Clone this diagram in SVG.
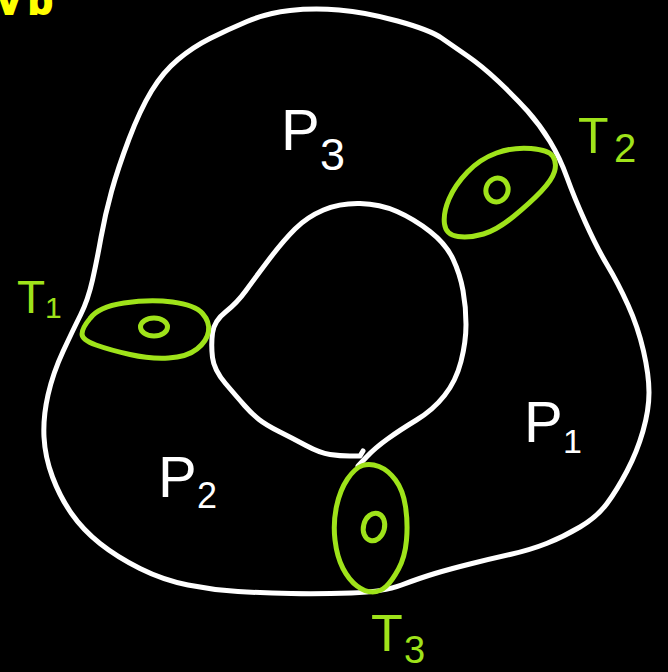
<svg xmlns="http://www.w3.org/2000/svg" width="668" height="672" viewBox="0 0 668 672">
<style>
.w{fill:none;stroke:#ffffff;stroke-width:5;stroke-linecap:round;stroke-linejoin:round}
.g{fill:none;stroke:#9fe31a;stroke-width:5;stroke-linecap:round;stroke-linejoin:round}
.pl{fill:#ffffff;font-family:"Liberation Sans",Arial,sans-serif}
.tl{fill:#9fe31a;font-family:"Liberation Sans",Arial,sans-serif}
</style>
<rect x="0" y="0" width="668" height="672" fill="#000000"/>
<g id="corner-text">
<text x="-2" y="14" font-family="Liberation Sans,Arial,sans-serif" font-size="40" font-weight="bold" fill="#ffff00" stroke="#ffff00" stroke-width="2" letter-spacing="8">vb</text>
</g>
<g id="surface">
<path id="outer" class="w" d="M351.5,593 Q383,592 401.5,585 Q420,578 435,573.5 Q450,569 470,564 Q490,559 510,554.5 Q530,550 546.5,543.5 Q563,537 580,527 Q597,517 607,503.5 Q617,490 627,471 Q637,452 643,431 Q649,410 649,392.5 Q649,375 643.5,351 Q638,327 628,305 Q618,283 607.5,265.5 Q597,248 585.5,222.5 Q574,197 567,177.5 Q560,158 550,141.5 Q540,125 527.5,111 Q515,97 498.5,81.5 Q482,66 467.5,56 Q453,46 441.5,38 Q430,30 397.5,21 Q365,12 339,10 Q313,8 290,10.5 Q267,13 247,21.5 Q227,30 210,38.5 Q193,47 178,59.5 Q163,72 151.5,91 Q140,110 129,139 Q118,168 111.5,191.5 Q105,215 101,237.5 Q97,260 92.5,280 Q88,300 80.5,315 Q73,330 63,351.5 Q53,373 48,395 Q43,417 44,437 Q45,457 52.5,477 Q60,497 71.5,513.5 Q83,530 100,543.5 Q117,557 140,568.5 Q163,580 188,585 Q213,590 238,591.5 Q263,593 291.5,593.5 Q320,594 351.5,593 Z"/>
<path id="inner" class="w" d="M358,466 L366.5,457 Q375,448 387.5,439 Q400,430 416.5,420 Q433,410 444.5,395.5 Q456,381 461,361.5 Q466,342 466,324.5 Q466,307 463,290.5 Q460,274 453,259 Q446,244 430,231.5 Q414,219 397,211.5 Q380,204 360,203.5 Q340,203 323.5,210 Q307,217 295,229 Q283,241 269,259.5 Q255,278 246,290.5 Q237,303 225.5,312 Q214,321 212.5,333 Q211,345 212.5,357.5 Q214,370 225.5,383.5 Q237,397 244.5,405.5 Q252,414 259,419.5 Q266,425 279,431.5 Q292,438 306,445.5 Q320,453 330,454.5 Q340,456 350,456 L360,456 L363,451"/>
</g>
<g id="T1">
<path class="g" d="M82,334 Q82,328 90,318.5 Q98,307 124,303 Q150,299 172.5,302 Q195,305 202.5,313.5 Q210,322 208.5,331.5 Q207,341 197,349 Q187,357 168.5,358 Q150,359 130,354.5 Q110,350 96,345 Q82,340 82,334 Z"/>
<ellipse class="g" cx="154" cy="327" rx="13.5" ry="9"/>
<text class="tl" x="17" y="313" font-size="46">T</text>
<text class="tl" x="45" y="318" font-size="30">1</text>
</g>
<g id="T2">
<path class="g" d="M554.5,171.5 Q557,163 553,156.5 Q549,150 531,148.5 Q513,147 496.5,153 Q480,159 467.5,172 Q455,185 449,199 Q443,213 444.5,224 Q446,235 458,236.5 Q470,238 483.5,234 Q497,230 513.5,216.5 Q530,203 541,191.5 Q552,180 554.5,171.5 Z"/>
<ellipse class="g" cx="497" cy="190" rx="11" ry="12" transform="rotate(20 497 190)"/>
<text class="tl" x="578" y="153" font-size="50">T</text>
<text class="tl" x="614" y="162" font-size="40">2</text>
</g>
<g id="T3">
<path class="g" d="M362.5,465.5 Q370,463 379,466.5 Q388,470 395.5,480 Q403,490 405.5,506.5 Q408,523 406.5,540 Q405,557 398.5,569 Q392,581 386,586.5 Q380,592 372.5,592 Q365,592 357,586 Q349,580 343,568.5 Q337,557 335,540 Q333,523 336.5,506.5 Q340,490 347.5,479 Q355,468 362.5,465.5 Z"/>
<ellipse class="g" cx="374" cy="527" rx="10.5" ry="14" transform="rotate(15 374 527)"/>
<text class="tl" x="371" y="651" font-size="52">T</text>
<text class="tl" x="404" y="663" font-size="38">3</text>
</g>
<g id="P3">
<text class="pl" x="281" y="150" font-size="58">P</text>
<text class="pl" x="320" y="170" font-size="45">3</text>
</g>
<g id="P2">
<text class="pl" x="158" y="497" font-size="58">P</text>
<text class="pl" x="197" y="508" font-size="36">2</text>
</g>
<g id="P1">
<text class="pl" x="524" y="442" font-size="58">P</text>
<text class="pl" x="563" y="453" font-size="34">1</text>
</g>
</svg>
